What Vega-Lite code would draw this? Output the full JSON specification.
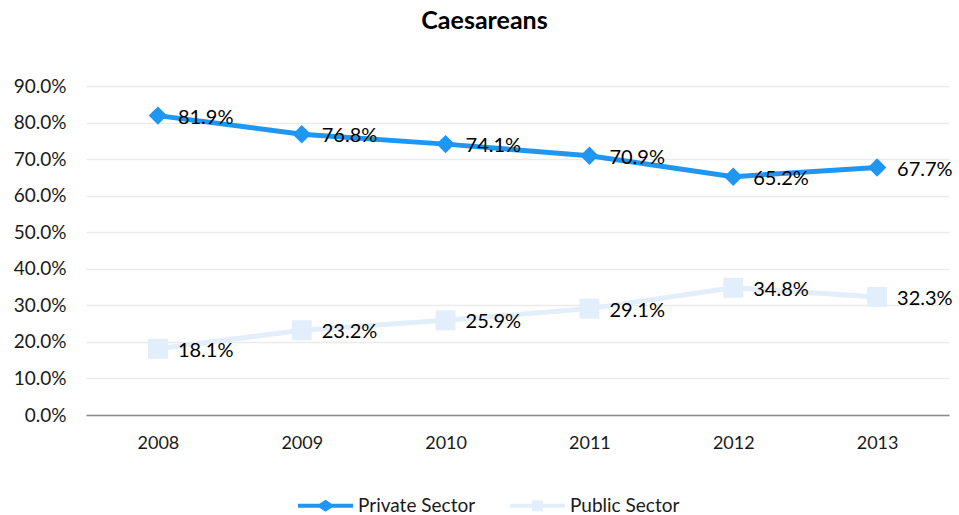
{
  "$schema": "https://vega.github.io/schema/vega-lite/v6.json",
  "width": 863,
  "height": 329,
  "autosize": "none",
  "padding": {"left": 86, "top": 86, "right": 10, "bottom": 100},
  "background": "white",
  "title": {"text": "Caesareans", "font": "Lato", "fontSize": 25, "fontWeight": "bold", "color": "#000000", "anchor": "middle", "frame": "group", "dx": -33, "offset": 43},
  "config": {
    "view": {"stroke": null},
    "font": "Lato"
  },
  "data": {"values": [
    {"year": "2008", "series": "Private Sector", "value": 0.819},
    {"year": "2009", "series": "Private Sector", "value": 0.768},
    {"year": "2010", "series": "Private Sector", "value": 0.741},
    {"year": "2011", "series": "Private Sector", "value": 0.709},
    {"year": "2012", "series": "Private Sector", "value": 0.652},
    {"year": "2013", "series": "Private Sector", "value": 0.677},
    {"year": "2008", "series": "Public Sector", "value": 0.181},
    {"year": "2009", "series": "Public Sector", "value": 0.232},
    {"year": "2010", "series": "Public Sector", "value": 0.259},
    {"year": "2011", "series": "Public Sector", "value": 0.291},
    {"year": "2012", "series": "Public Sector", "value": 0.348},
    {"year": "2013", "series": "Public Sector", "value": 0.323}
  ]},
  "encoding": {
    "x": {"field": "year", "type": "nominal", "scale": {"paddingInner": 0, "paddingOuter": 0}, "axis": {"title": null, "labelAngle": 0, "labelPadding": 19, "labelFont": "Lato", "labelFontSize": 18, "labelColor": "#1a1a1a", "ticks": false, "domainColor": "#8c8c8c", "domainWidth": 1.5, "grid": false}},
    "y": {"field": "value", "type": "quantitative", "scale": {"domain": [0, 0.9], "nice": false}, "axis": {"title": null, "format": ".1%", "values": [0, 0.1, 0.2, 0.3, 0.4, 0.5, 0.6, 0.7, 0.8, 0.9], "labelFont": "Lato", "labelFontSize": 19, "labelColor": "#1a1a1a", "ticks": false, "domain": false, "grid": true, "gridColor": "#ebebeb", "gridWidth": 1.5, "labelPadding": 20}}
  },
  "layer": [
    {
      "mark": {"type": "point", "filled": true, "opacity": 0, "size": 3025},
      "encoding": {
        "color": {"field": "series", "type": "nominal", "scale": {"domain": ["Private Sector", "Public Sector"], "range": ["#1f97f2", "#e3eefc"]}, "legend": {"title": null, "orient": "none", "direction": "horizontal", "legendX": 212, "legendY": 392, "labelFont": "Lato", "labelFontSize": 19, "labelColor": "#1a1a1a", "symbolSize": 3025, "labelOffset": 5, "columnPadding": 34, "padding": 0, "symbolStrokeWidth": 0, "encode": {"symbols": {"update": {"opacity": {"value": 1}, "fillOpacity": {"value": 1}}}}}},
        "shape": {"field": "series", "type": "nominal", "scale": {"domain": ["Private Sector", "Public Sector"], "range": ["M-1,-0.07L-0.22,-0.07L0,-0.22L0.22,-0.07L1,-0.07L1,0.07L0.22,0.07L0,0.22L-0.22,0.07L-1,0.07Z", "M-1,-0.07L-0.2,-0.07L-0.2,-0.2L0.2,-0.2L0.2,-0.07L1,-0.07L1,0.07L0.2,0.07L0.2,0.2L-0.2,0.2L-0.2,0.07L-1,0.07Z"]}, "legend": {"title": null, "orient": "none", "direction": "horizontal", "legendX": 212, "legendY": 392, "labelFont": "Lato", "labelFontSize": 19, "labelColor": "#1a1a1a", "symbolSize": 3025, "labelOffset": 5, "columnPadding": 34, "padding": 0, "symbolStrokeWidth": 0, "encode": {"symbols": {"update": {"opacity": {"value": 1}, "fillOpacity": {"value": 1}}}}}}
      }
    },
    {
      "mark": {"type": "line", "strokeWidth": 5},
      "encoding": {"color": {"field": "series", "type": "nominal", "legend": null}}
    },
    {
      "transform": [{"filter": "datum.series === 'Private Sector'"}],
      "mark": {"type": "point", "shape": "diamond", "filled": true, "opacity": 1, "size": 340},
      "encoding": {"color": {"field": "series", "type": "nominal", "legend": null}}
    },
    {
      "transform": [{"filter": "datum.series === 'Public Sector'"}],
      "mark": {"type": "point", "shape": "square", "filled": true, "opacity": 1, "size": 400},
      "encoding": {"color": {"field": "series", "type": "nominal", "legend": null}}
    },
    {
      "mark": {"type": "text", "align": "left", "baseline": "middle", "dx": 20, "dy": 2, "font": "Lato", "fontSize": 20, "color": "#000000"},
      "encoding": {"text": {"field": "value", "type": "quantitative", "format": ".1%"}}
    }
  ]
}
